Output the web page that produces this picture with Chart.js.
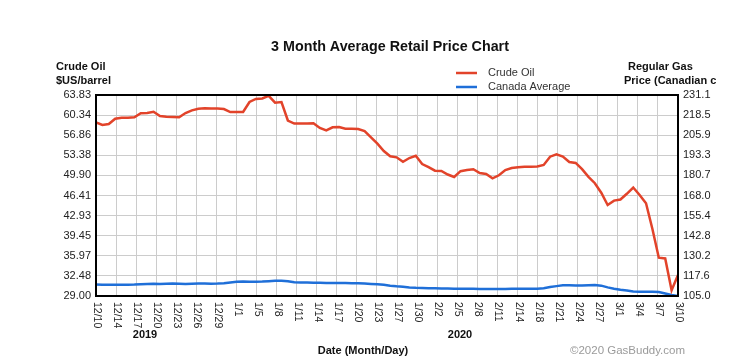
<!DOCTYPE html>
<html>
<head>
<meta charset="utf-8">
<script src="https://cdn.jsdelivr.net/npm/chart.js@4/dist/chart.umd.min.js"></script>
<style>
  body { margin: 0; background: #fff; }
</style>
</head>
<body>
<canvas id="myChart" width="753" height="363"></canvas>
<script>
// etiquetas del eje x (cada ~3 dias)
const tickLabels = ["12/10","12/14","12/17","12/20","12/23","12/26","12/29","1/1","1/5","1/8",
  "1/11","1/14","1/17","1/20","1/23","1/27","1/30","2/2","2/5","2/8",
  "2/11","2/14","2/18","2/21","2/24","2/27","3/1","3/4","3/7","3/10"];
const totalDays = 91;

// valores diarios desde 12/10 hasta 3/10
const crudeOil = [59.10,58.63,58.80,59.72,59.90,59.90,59.97,60.66,60.71,60.92,
  60.19,60.07,60.03,59.97,60.71,61.16,61.44,61.52,61.51,61.49,
  61.40,60.88,60.88,60.88,62.62,63.14,63.24,63.69,62.50,62.62,
  59.41,58.89,58.89,58.91,58.93,58.11,57.68,58.23,58.28,57.99,
  57.97,57.94,57.56,56.50,55.39,54.13,53.21,53.03,52.25,52.91,
  53.29,51.87,51.32,50.71,50.66,50.05,49.62,50.63,50.83,50.97,
  50.30,50.14,49.40,49.92,50.83,51.18,51.32,51.41,51.41,51.43,
  51.70,53.14,53.54,53.17,52.22,52.06,50.97,49.64,48.55,46.90,
  44.77,45.53,45.72,46.71,47.80,46.50,45.06,40.61,35.64,35.50,
  30.00,32.64];

const canadaAverage = [112.2,112.1,112.0,112.0,112.0,112.1,112.2,112.4,112.6,112.7,
  112.6,112.7,112.8,112.7,112.6,112.7,112.8,112.8,112.7,112.8,
  113.0,113.5,114.0,114.1,114.0,114.0,114.1,114.3,114.5,114.6,
  114.3,113.6,113.4,113.4,113.3,113.3,113.2,113.1,113.2,113.1,
  113.0,113.0,112.8,112.6,112.4,112.0,111.5,111.1,110.8,110.4,
  110.1,110.0,109.9,109.8,109.7,109.7,109.6,109.5,109.5,109.5,
  109.4,109.4,109.4,109.4,109.4,109.5,109.5,109.5,109.6,109.6,
  109.8,110.6,111.2,111.7,111.8,111.6,111.6,111.8,111.9,111.5,
  110.4,109.6,108.9,108.4,107.8,107.6,107.6,107.6,107.5,106.6,
  105.6,105.0];

const leftTicks = [29.00,32.48,35.97,39.45,42.93,46.41,49.90,53.38,56.86,60.34,63.83];
const rightTicks = [105.0,117.6,130.2,142.8,155.4,168.0,180.7,193.3,205.9,218.5,231.1];

const FONT = '"Liberation Sans", Arial, sans-serif';

// dibujo titulos, leyenda, etiquetas giradas y borde
const decorPlugin = {
  id: 'decor',
  afterDraw(chart) {
    const { ctx, chartArea: a, scales: { x } } = chart;
    ctx.save();
    ctx.strokeStyle = '#000';
    ctx.lineWidth = 2;
    ctx.strokeRect(a.left, a.top, a.right - a.left, a.bottom - a.top);

    ctx.fillStyle = '#222';
    ctx.font = '10.5px ' + FONT;
    ctx.textAlign = 'left';
    ctx.textBaseline = 'middle';
    x.ticks.forEach((t, i) => {
      const px = x.getPixelForValue(t.value);
      ctx.save();
      ctx.translate(px + 1, a.bottom + 6);
      ctx.rotate(Math.PI / 2);
      ctx.fillText(tickLabels[i], 0, 0);
      ctx.restore();
    });

    ctx.fillStyle = '#111';
    ctx.font = 'bold 14.3px ' + FONT;
    ctx.textAlign = 'center';
    ctx.fillText('3 Month Average Retail Price Chart', 390, 47);

    ctx.font = 'bold 11px ' + FONT;
    ctx.textAlign = 'left';
    ctx.fillText('Crude Oil', 56, 67);
    ctx.fillText('$US/barrel', 56, 81);
    ctx.fillText('Regular Gas', 628, 67);
    ctx.fillText('Price (Canadian c', 624, 81);

    ctx.textAlign = 'center';
    ctx.fillText('2019', 145, 335);
    ctx.fillText('2020', 460, 335);
    ctx.fillText('Date (Month/Day)', 363, 351);

    ctx.font = '11.5px ' + FONT;
    ctx.fillStyle = '#9a9a9a';
    ctx.textAlign = 'left';
    ctx.fillText('\u00a92020 GasBuddy.com', 570, 351);

    // leyenda
    const ds = chart.data.datasets;
    const rows = [73, 87];
    ctx.font = '11px ' + FONT;
    ds.forEach((d, i) => {
      ctx.strokeStyle = d.borderColor;
      ctx.lineWidth = 2.5;
      ctx.beginPath();
      ctx.moveTo(456, rows[i]);
      ctx.lineTo(477, rows[i]);
      ctx.stroke();
      ctx.fillStyle = '#333';
      ctx.fillText(d.label, 488, rows[i]);
    });
    ctx.restore();
  }
};

const config = {
  type: 'line',
  data: {
    datasets: [
      {
        label: 'Crude Oil',
        data: crudeOil.map((v, i) => ({ x: i, y: v })),
        borderColor: '#e2432a',
        borderWidth: 2.5,
        pointRadius: 0,
        tension: 0,
        yAxisID: 'y'
      },
      {
        label: 'Canada Average',
        data: canadaAverage.map((v, i) => ({ x: i, y: v })),
        borderColor: '#1f6fd8',
        borderWidth: 2.5,
        pointRadius: 0,
        tension: 0,
        yAxisID: 'y1'
      }
    ]
  },
  options: {
    responsive: false,
    animation: false,
    layout: { padding: { top: 95, left: 0, right: 0, bottom: 0 } },
    plugins: { legend: { display: false }, tooltip: { enabled: false } },
    scales: {
      x: {
        type: 'linear',
        min: 0,
        max: totalDays,
        afterBuildTicks: (s) => { s.ticks = tickLabels.map((l, i) => ({ value: i * totalDays / (tickLabels.length - 1) })); },
        afterFit: (s) => { s.height = 67; },
        ticks: { display: false },
        grid: { color: '#cccccc', drawTicks: false },
        border: { display: false }
      },
      y: {
        position: 'left',
        min: 29,
        max: 63.83,
        afterBuildTicks: (s) => { s.ticks = leftTicks.map(v => ({ value: v })); },
        afterFit: (s) => { s.width = 96; },
        ticks: { padding: 5, color: '#222', font: { family: FONT, size: 11 }, callback: (v) => v.toFixed(2) },
        grid: { color: '#cccccc', drawTicks: false },
        border: { display: false }
      },
      y1: {
        position: 'right',
        min: 105,
        max: 231.1,
        afterBuildTicks: (s) => { s.ticks = rightTicks.map(v => ({ value: v })); },
        afterFit: (s) => { s.width = 75; },
        ticks: { padding: 5, color: '#222', font: { family: FONT, size: 11 }, callback: (v) => v.toFixed(1) },
        grid: { display: false, drawTicks: false },
        border: { display: false }
      }
    }
  },
  plugins: [decorPlugin]
};

new Chart(document.getElementById('myChart'), config);
</script>
</body>
</html>
